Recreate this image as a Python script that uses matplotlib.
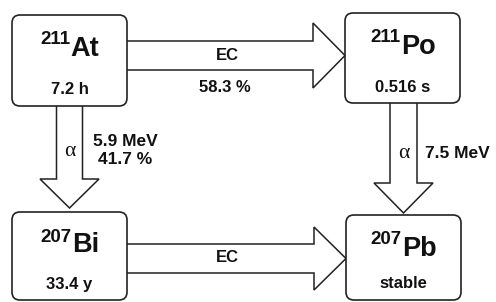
import matplotlib
matplotlib.use("Agg")
import matplotlib.pyplot as plt
from matplotlib.patches import FancyBboxPatch, FancyArrow

# Data
mass_numbers = ["211", "211", "207", "207"]
elements = ["At", "Po", "Bi", "Pb"]
half_lives = ["7.2 h", "0.516 s", "33.4 y", "stable"]
horizontal_labels = ["EC", "EC"]
branch_ec = "58.3 %"
alpha_labels = ["5.9 MeV\n41.7 %", "7.5 MeV"]

fig = plt.figure(figsize=(4.96, 3.02), dpi=100)
ax = fig.add_axes([0, 0, 1, 1])
ax.set_xlim(0, 496)
ax.set_ylim(302, 0)
ax.axis("off")

bold = dict(family="Liberation Sans", weight="bold", color="#111111")
renderer = fig.canvas.get_renderer()

# boxes: (x0, y0, x1, y1)
boxes = [(12, 15, 127, 106), (345, 13, 460, 103), (12, 212, 127, 300), (346, 215, 461, 300)]
for (x0, y0, x1, y1), a, el, hl in zip(boxes, mass_numbers, elements, half_lives):
    p = FancyBboxPatch((x0 + 8, y0 + 8), (x1 - x0) - 16, (y1 - y0) - 16,
                       boxstyle="round,pad=8", fc="white", ec="#222222", lw=1.2, zorder=3)
    ax.add_patch(p)
    cx = (x0 + x1) / 2
    t_sup = ax.text(cx, y0 + 29.5, a, ha="right", va="baseline", fontsize=13.5, zorder=4, **bold)
    t_sym = ax.text(cx, y0 + 40.5, el, ha="left", va="baseline", fontsize=19.5, zorder=4, **bold)
    w_sup = t_sup.get_window_extent(renderer).width
    w_sym = t_sym.get_window_extent(renderer).width
    split = cx + (w_sup - w_sym) / 2
    t_sup.set_x(split)
    t_sym.set_x(split + 0.5)
    ax.text(cx, y1 - 16, hl, ha="center", va="center", fontsize=12, zorder=4, **bold)

arrow_kw = dict(fc="white", ec="#222222", lw=1.1, length_includes_head=True, zorder=2)
# horizontal arrows
ax.add_patch(FancyArrow(125, 55.5, 345 - 125, 0, width=29, head_width=65, head_length=32, **arrow_kw))
ax.add_patch(FancyArrow(125, 258.5, 346 - 125, 0, width=29, head_width=63, head_length=32, **arrow_kw))
# vertical arrows
ax.add_patch(FancyArrow(69.5, 104, 0, 208 - 104, width=26, head_width=59, head_length=29, **arrow_kw))
ax.add_patch(FancyArrow(403.5, 101, 0, 213 - 101, width=27, head_width=59, head_length=30, **arrow_kw))

ax.text(227, 56, horizontal_labels[0], ha="center", va="center", fontsize=12, **bold)
ax.text(225, 88, branch_ec, ha="center", va="center", fontsize=12, **bold)
ax.text(227, 258, horizontal_labels[1], ha="center", va="center", fontsize=12, **bold)

ax.text(69.5, 151, "α", ha="center", va="center", fontsize=15.5, family="Liberation Serif", color="#111111")
ax.text(403.5, 153, "α", ha="center", va="center", fontsize=15.5, family="Liberation Serif", color="#111111")
ax.text(125, 151, alpha_labels[0], ha="center", va="center", fontsize=12.5,
        linespacing=1.25, **bold)
ax.text(425, 153, alpha_labels[1], ha="left", va="center", fontsize=12.5, **bold)

fig.savefig("out.png", dpi=100)
